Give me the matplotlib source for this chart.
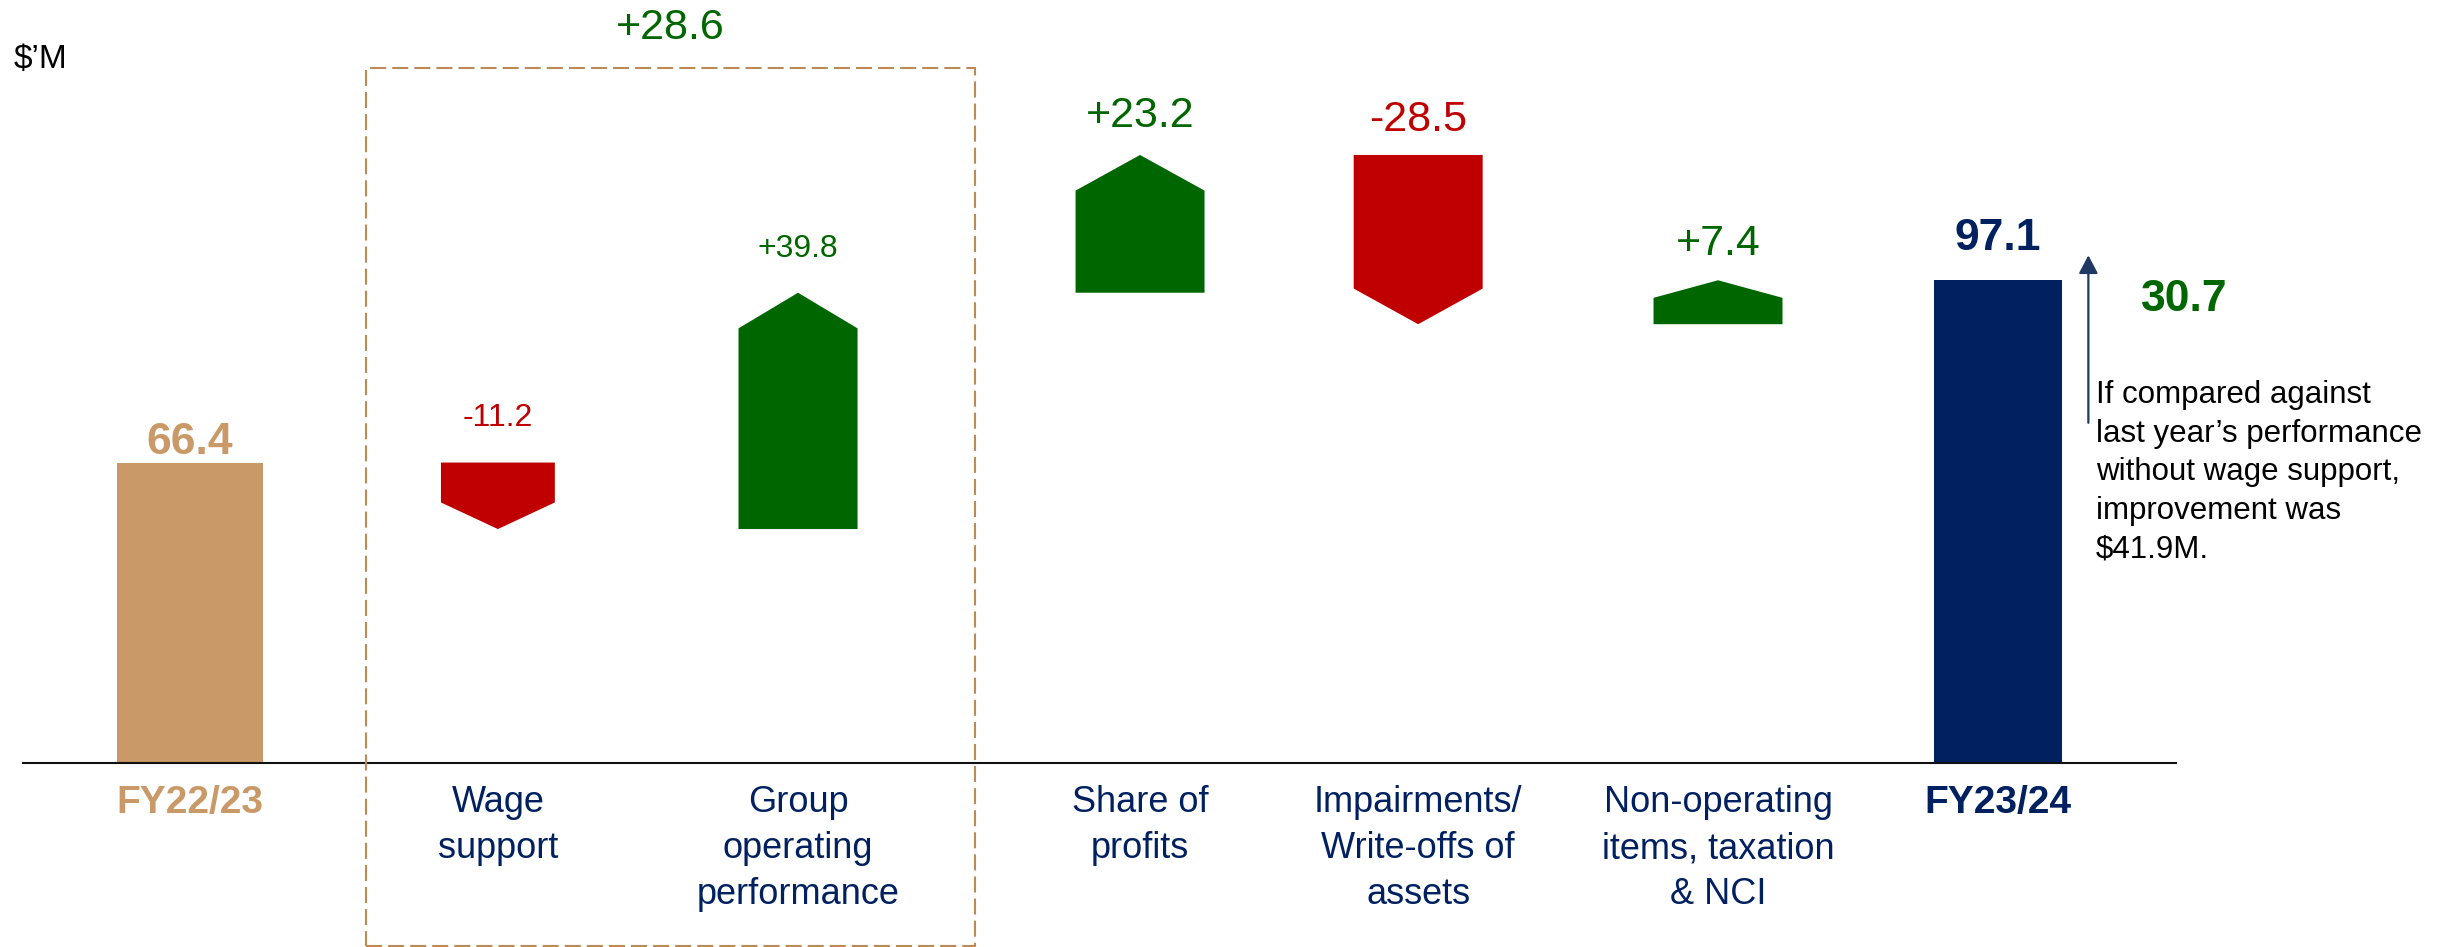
import numpy as np
import matplotlib
matplotlib.use("Agg")
import matplotlib.pyplot as plt
from matplotlib.patches import Polygon, Rectangle
import matplotlib.transforms as mtransforms

# data
categories = ["FY22/23", "Wage\nsupport", "Group\noperating\nperformance", "Share of\nprofits",
              "Impairments/\nWrite-offs of\nassets", "Non-operating\nitems, taxation\n& NCI", "FY23/24"]
start_value = 66.4
end_value = 97.1
changes = [-11.2, 39.8, 23.2, -28.5, 7.4]
group_total = 28.6          # wage support + group operating performance
adjusted_improvement = 41.9

# layout
xpos = [0, 1.022, 2.018, 3.153, 4.076, 5.071, 6.0]
widths = [0.485, 0.378, 0.395, 0.428, 0.428, 0.428, 0.425]
label_size = [23, 23, 31, 31, 31]
label_pad = [26, 26, 20, 17, 18]

TAN = "#C99A68"
NAVY = "#002060"
RED = "#C00000"
GREEN = "#006600"
BOX = "#BC8A55"

plt.rcParams['font.family'] = ['Liberation Sans', 'DejaVu Sans']

fig = plt.figure(figsize=(24.45, 9.47), dpi=100)
ax = fig.add_axes([0.0094, 0.1943, 0.8806, 0.8057])

# totals
ax.bar(xpos[0], start_value, width=widths[0], color=TAN)
ax.bar(xpos[-1], end_value, width=widths[-1], color=NAVY)
ax.annotate(f"{start_value:.1f}", (xpos[0], start_value), xytext=(0, 6), textcoords='offset points',
            ha='center', va='baseline', fontsize=32, fontweight='bold', color=TAN)
ax.annotate(f"{end_value:.1f}", (xpos[-1], end_value), xytext=(0, 22), textcoords='offset points',
            ha='center', va='baseline', fontsize=32, fontweight='bold', color=NAVY)

# floating arrows
prev = start_value
for i, d in enumerate(changes):
    x = xpos[i + 1]
    w = widths[i + 1]
    new = prev + d
    tip = min(6.0, 0.4 * abs(d))
    l, r = x - w / 2, x + w / 2
    if d > 0:
        pts = [(l, prev), (r, prev), (r, new - tip), (x, new), (l, new - tip)]
        col, top = GREEN, new
    else:
        pts = [(l, prev), (r, prev), (r, new + tip), (x, new), (l, new + tip)]
        col, top = RED, prev
    ax.add_patch(Polygon(pts, closed=True, facecolor=col, edgecolor='none'))
    ax.annotate(f"{d:+.1f}", (x, top), xytext=(0, label_pad[i]), textcoords='offset points',
                ha='center', va='baseline', fontsize=label_size[i], color=col)
    prev = new

# category labels
for i, cat in enumerate(categories):
    bold = i in (0, len(categories) - 1)
    col = TAN if i == 0 else NAVY
    ax.annotate(cat, (xpos[i], 0), xycoords=('data', 'axes fraction'), xytext=(0, -16),
                textcoords='offset points', ha='center', va='top', fontsize=28 if bold else 26,
                fontweight='bold' if bold else 'normal', color=col, linespacing=1.4)

ax.set_xlim(-0.554, 6.591)
ax.set_ylim(15.8, 144.3)
for s in ['top', 'right', 'left']:
    ax.spines[s].set_visible(False)
ax.spines['bottom'].set_linewidth(1.5)
ax.spines['bottom'].set_color('#111111')
ax.set_xticks([])
ax.set_yticks([])

# dashed box around wage support + group operating performance
blend = mtransforms.blended_transform_factory(ax.transData, fig.transFigure)
box_x0, box_x1 = 0.584, 2.605
fig.add_artist(Rectangle((box_x0, 0.001), box_x1 - box_x0, 0.927, transform=blend, fill=False,
                         edgecolor=BOX, linewidth=1.5, linestyle=(0, (7.7, 2.9))))
ax.text((box_x0 + box_x1) / 2, 0.9588, f"{group_total:+.1f}", transform=blend, ha='center',
        va='baseline', fontsize=31, color=GREEN)

# improvement arrow and note
ax.annotate('', xy=(6.30, 101.3), xytext=(6.30, 73.1),
            arrowprops=dict(arrowstyle='-|>,head_length=0.55,head_width=0.29', mutation_scale=20,
                            lw=1.6, color='#1F3864', shrinkA=0, shrinkB=0))
ax.text(6.62, 93.8, f"{end_value - start_value:.1f}", ha='center', va='center', fontsize=32,
        fontweight='bold', color=GREEN)
note = ("If compared against\nlast year’s performance\nwithout wage support,\n"
        f"improvement was\n${adjusted_improvement:.1f}M.")
fig.text(0.8573, 0.5987, note, ha='left', va='top', fontsize=22.5, linespacing=1.37, color='black')

fig.text(0.0057, 0.928, "$’M", ha='left', va='baseline', fontsize=24, color='black')

fig.savefig("out.png", dpi=100)
